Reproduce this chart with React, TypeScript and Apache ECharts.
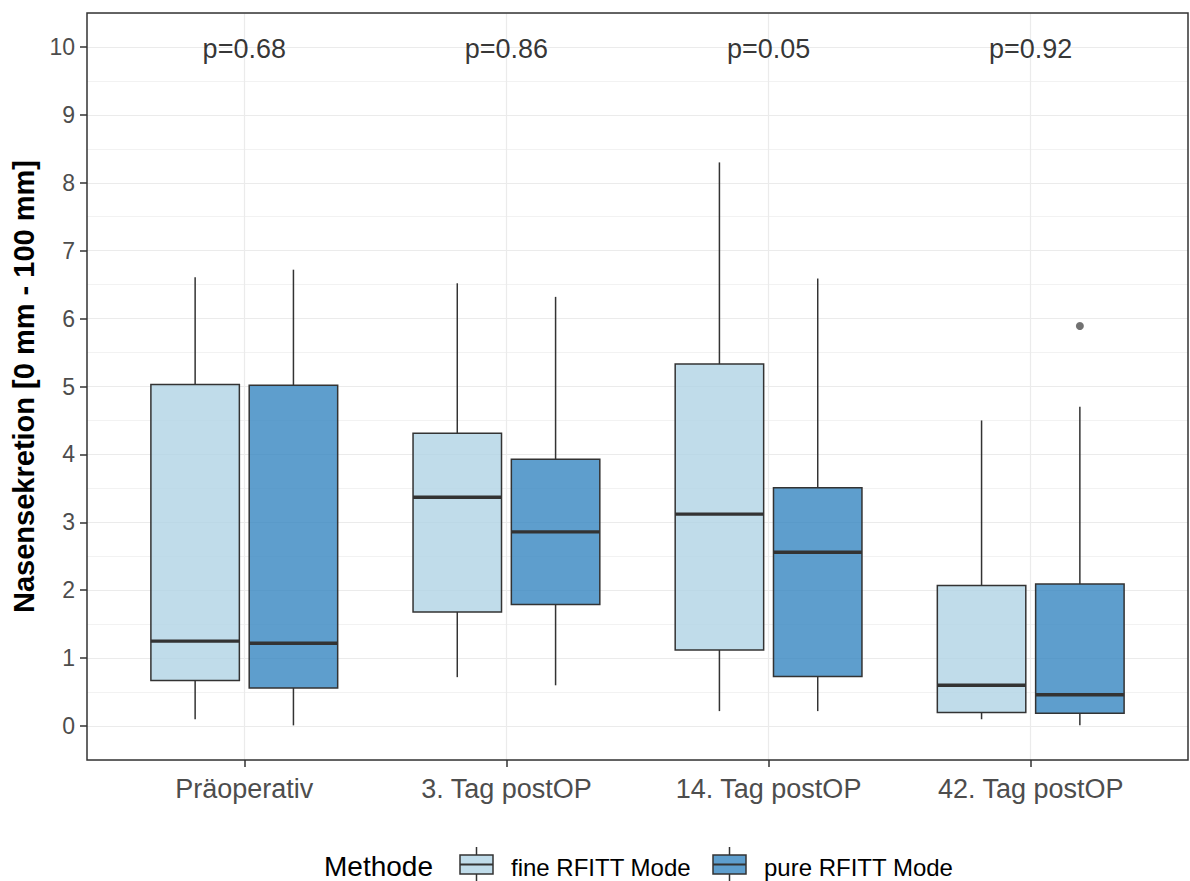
import React, { useEffect, useRef } from "react";
import * as echarts from "echarts";

// ---- data ----
const categories = ["Präoperativ", "3. Tag postOP", "14. Tag postOP", "42. Tag postOP"];
const groups = ["fine RFITT Mode", "pure RFITT Mode"];
// [min, Q1, median, Q3, max]
const fineStats = [
  [0.10, 0.67, 1.25, 5.03, 6.61],
  [0.72, 1.68, 3.37, 4.31, 6.52],
  [0.22, 1.12, 3.12, 5.33, 8.30],
  [0.10, 0.20, 0.60, 2.07, 4.50],
];
const pureStats = [
  [0.01, 0.56, 1.22, 5.02, 6.72],
  [0.60, 1.79, 2.86, 3.93, 6.32],
  [0.22, 0.73, 2.56, 3.51, 6.59],
  [0.01, 0.19, 0.46, 2.09, 4.70],
];
// outliers: [category index (0-based), value]
const pureOutliers = [[3, 5.89]];
const fineOutliers: number[][] = [];
const pValues = ["p=0.68", "p=0.86", "p=0.05", "p=0.92"];
const pValueLevel = 10;
const yTicks = [0, 1, 2, 3, 4, 5, 6, 7, 8, 9, 10];

const FONT = "'Liberation Sans', Arial, sans-serif";
const fineFill = "rgba(176,211,229,0.8)";
const pureFill = "rgba(54,134,192,0.8)";
const edge = "#333333";
const DODGE = 0.1875;
const HALF = 0.16875;

const GRID = { left: 87, right: 2, top: 13, bottom: 121 };
const W = 1190;
const H = 881;

function boxSeries(name: string, stats: number[][], offset: number, fill: string) {
  return {
    type: "custom",
    name,
    xAxisIndex: 0,
    yAxisIndex: 0,
    z: 3,
    encode: { x: 0, y: [1, 2, 3, 4, 5] },
    data: stats.map((s, i) => [i + 1, ...s]),
    renderItem: (params: any, api: any) => {
      const c = api.value(0) + offset;
      const lo = api.value(1), q1 = api.value(2), med = api.value(3), q3 = api.value(4), hi = api.value(5);
      const cx = api.coord([c, med])[0];
      const left = api.coord([c - HALF, med])[0];
      const right = api.coord([c + HALF, med])[0];
      const y = (v: number) => api.coord([c, v])[1];
      const ls = { stroke: edge, lineWidth: 1.5 };
      return {
        type: "group",
        children: [
          { type: "line", shape: { x1: cx, y1: y(hi), x2: cx, y2: y(q3) }, style: ls },
          { type: "line", shape: { x1: cx, y1: y(q1), x2: cx, y2: y(lo) }, style: ls },
          {
            type: "rect",
            shape: { x: left, y: y(q3), width: right - left, height: y(q1) - y(q3) },
            style: { fill, stroke: edge, lineWidth: 1.5 },
          },
          { type: "line", shape: { x1: left, y1: y(med), x2: right, y2: y(med) }, style: { stroke: edge, lineWidth: 3.4 } },
        ],
      };
    },
  };
}

function legendKey(x: number, fill: string) {
  return {
    type: "group",
    children: [
      { type: "line", shape: { x1: x + 16.5, y1: 847, x2: x + 16.5, y2: 881 }, style: { stroke: edge, lineWidth: 1.5 } },
      { type: "rect", shape: { x, y: 855, width: 33, height: 19 }, style: { fill: "#fff", stroke: "none" } },
      { type: "rect", shape: { x, y: 855, width: 33, height: 19 }, style: { fill, stroke: edge, lineWidth: 1.5 } },
      { type: "line", shape: { x1: x, y1: 864.5, x2: x + 33, y2: 864.5 }, style: { stroke: edge, lineWidth: 2 } },
    ],
  };
}

export default function App() {
  const ref = useRef<HTMLDivElement>(null);
  useEffect(() => {
    if (!ref.current) return;
    const chart = echarts.init(ref.current, null, { renderer: "svg" });
    const option: any = {
      animation: false,
      backgroundColor: "#ffffff",
      textStyle: { fontFamily: FONT },
      grid: {
        left: GRID.left,
        right: GRID.right,
        top: GRID.top,
        bottom: GRID.bottom,
        show: false,
        containLabel: false,
        outerBoundsMode: "none",
      },
      xAxis: {
        type: "value",
        min: 0.4,
        max: 4.6,
        position: "bottom",
        axisLine: { show: false, onZero: false },
        axisTick: { show: true, customValues: [1, 2, 3, 4], length: 7, lineStyle: { color: edge, width: 1.5 } },
        axisLabel: {
          customValues: [1, 2, 3, 4],
          formatter: (v: number) => categories[Math.round(v) - 1] ?? "",
          fontSize: 27,
          color: "#4D4D4D",
          fontFamily: FONT,
          margin: 15,
        },
        splitLine: { show: true, lineStyle: { color: "#EBEBEB", width: 1.2 } },
      },
      yAxis: [
        {
          type: "value",
          min: -0.5,
          max: 10.5,
          interval: 0.5,
          axisLine: { show: false, onZero: false },
          axisTick: { show: false },
          axisLabel: { show: false },
          splitLine: { show: true, lineStyle: { color: "#EFEFEF", width: 0.8 } },
        },
        {
          type: "value",
          min: -0.5,
          max: 10.5,
          position: "left",
          axisLine: { show: false, onZero: false },
          axisTick: { show: true, customValues: yTicks, length: 7, lineStyle: { color: edge, width: 1.5 } },
          axisLabel: {
            customValues: yTicks,
            fontSize: 23,
            color: "#4D4D4D",
            fontFamily: FONT,
            margin: 12,
          },
          splitLine: { show: true, lineStyle: { color: "#EBEBEB", width: 1.2 } },
          name: "Nasensekretion [0 mm - 100 mm]",
          nameLocation: "middle",
          nameRotate: 90,
          nameGap: 47,
          nameTextStyle: { fontSize: 29, fontWeight: "bold", color: "#000", fontFamily: FONT },
        },
      ],
      series: [
        boxSeries(groups[0], fineStats, -DODGE, fineFill),
        boxSeries(groups[1], pureStats, DODGE, pureFill),
        {
          type: "scatter",
          name: "outliers",
          z: 4,
          symbol: "circle",
          symbolSize: 8,
          itemStyle: { color: "#4D4D4D" },
          data: [
            ...fineOutliers.map((o) => [o[0] + 1 - DODGE, o[1]]),
            ...pureOutliers.map((o) => [o[0] + 1 + DODGE, o[1]]),
          ],
        },
        {
          type: "scatter",
          name: "pvalues",
          z: 5,
          symbolSize: 0,
          silent: true,
          data: pValues.map((_, i) => [i + 1, pValueLevel]),
          label: {
            show: true,
            position: "inside",
            offset: [0, 2],
            formatter: (p: any) => pValues[p.dataIndex],
            fontSize: 27,
            color: "#000",
            fontFamily: FONT,
          },
        },
      ],
      graphic: [
        {
          type: "rect",
          z: 100,
          silent: true,
          shape: {
            x: GRID.left,
            y: GRID.top,
            width: W - GRID.left - GRID.right,
            height: H - GRID.top - GRID.bottom,
          },
          style: { fill: "none", stroke: edge, lineWidth: 1.5 },
        },
        { type: "text", x: 324, y: 866, style: { text: "Methode", fontSize: 28, fill: "#000", fontFamily: FONT, verticalAlign: "middle", align: "left" } },
        legendKey(460, fineFill),
        { type: "text", x: 511, y: 867, style: { text: groups[0], fontSize: 24, fill: "#000", fontFamily: FONT, verticalAlign: "middle", align: "left" } },
        legendKey(713, pureFill),
        { type: "text", x: 764, y: 867, style: { text: groups[1], fontSize: 24, fill: "#000", fontFamily: FONT, verticalAlign: "middle", align: "left" } },
      ],
    };
    chart.setOption(option);
    return () => chart.dispose();
  }, []);
  return <div ref={ref} style={{ position: "fixed", left: 0, top: 0, width: W, height: H }} />;
}
